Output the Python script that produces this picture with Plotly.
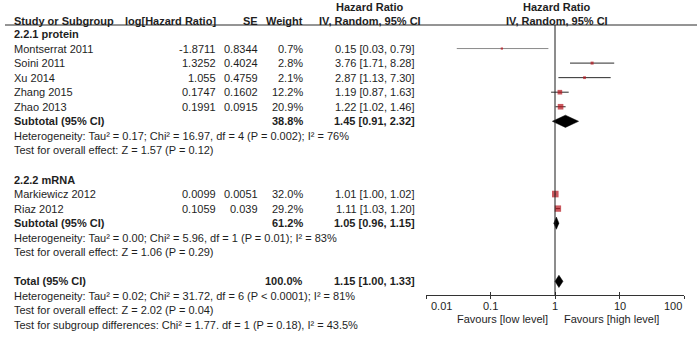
import math
import plotly.graph_objects as go

# ---------------- data ----------------
studies = ["Montserrat 2011", "Soini 2011", "Xu 2014", "Zhang 2015", "Zhao 2013",
           "Markiewicz 2012", "Riaz 2012"]
log_hr = ["-1.8711", "1.3252", "1.055", "0.1747", "0.1991", "0.0099", "0.1059"]
se = ["0.8344", "0.4024", "0.4759", "0.1602", "0.0915", "0.0051", "0.039"]
weight = [0.7, 2.8, 2.1, 12.2, 20.9, 32.0, 29.2]
hr = [0.15, 3.76, 2.87, 1.19, 1.22, 1.01, 1.11]
hr_lo = [0.03, 1.71, 1.13, 0.87, 1.02, 1.00, 1.03]
hr_hi = [0.79, 8.28, 7.30, 1.63, 1.46, 1.02, 1.20]

groups = ["2.2.1 protein", "2.2.2 mRNA"]
pooled_names = ["Subtotal (95% CI)", "Subtotal (95% CI)", "Total (95% CI)"]
pooled_weight = [38.8, 61.2, 100.0]
pooled_hr = [1.45, 1.05, 1.15]
pooled_lo = [0.91, 0.96, 1.00]
pooled_hi = [2.32, 1.15, 1.33]

het_text = [
    "Heterogeneity: Tau² = 0.17; Chi² = 16.97, df = 4 (P = 0.002); I² = 76%",
    "Heterogeneity: Tau² = 0.00; Chi² = 5.96, df = 1 (P = 0.01); I² = 83%",
    "Heterogeneity: Tau² = 0.02; Chi² = 31.72, df = 6 (P < 0.0001); I² = 81%",
]
effect_text = [
    "Test for overall effect: Z = 1.57 (P = 0.12)",
    "Test for overall effect: Z = 1.06 (P = 0.29)",
    "Test for overall effect: Z = 2.02 (P = 0.04)",
]
subgroup_text = "Test for subgroup differences: Chi² = 1.77. df = 1 (P = 0.18), I² = 43.5%"

tick_vals = [0.01, 0.1, 1, 10, 100]
tick_text = ["0.01", "0.1", "1", "10", "100"]
favours = ["Favours [low level]", "Favours [high level]"]

# row layout
study_rows = [1, 2, 3, 4, 5, 11, 12]
group_rows = [0, 10]
pooled_rows = [6, 13, 17]
het_rows = [7, 14, 18]
effect_rows = [8, 15, 19]
subgroup_row = 20

# ---------------- geometry ----------------
W, H = 697, 337
FONT = "Liberation Sans, Arial, sans-serif"
TXT = "#1e1e1e"
FS = 11
ROW0, STEP = 34.0, 14.55
TOP_PX, AX_PX = 25.0, 295.0
PL_X0, PL_X1 = 426.0, 684.0


def px(x):
    return x / W


def py(y):
    return 1 - y / H


def row_py(r):
    return py(ROW0 + STEP * r)


y_top = (TOP_PX - ROW0) / STEP
y_bot = (AX_PX - ROW0) / STEP

fig = go.Figure()

# CI lines
for i in range(len(studies)):
    col = "#8a8a8a" if i == 0 else "#2a2a2a"
    fig.add_trace(go.Scatter(x=[hr_lo[i], hr_hi[i]], y=[study_rows[i]] * 2, mode="lines",
                             line=dict(color=col, width=1), hoverinfo="skip", showlegend=False))

# study squares
sizes = [1.5 + 0.9 * w ** 0.5 for w in weight]
fig.add_trace(go.Scatter(x=hr, y=study_rows, mode="markers",
                         marker=dict(symbol="square", size=sizes, color="#b5121b",
                                     line=dict(width=0)),
                         hoverinfo="skip", showlegend=False))

# diamonds
for k in range(3):
    r = pooled_rows[k]
    h = 0.42
    fig.add_trace(go.Scatter(
        x=[pooled_lo[k], pooled_hr[k], pooled_hi[k], pooled_hr[k], pooled_lo[k]],
        y=[r, r - h, r, r + h, r], mode="lines", fill="toself",
        fillcolor="#000000", line=dict(color="#000000", width=0.5),
        hoverinfo="skip", showlegend=False))

# invisible trace for overlay axis
fig.add_trace(go.Scatter(x=[1], y=[0], xaxis="x2", mode="markers",
                         marker=dict(opacity=0), hoverinfo="skip", showlegend=False))

ann = []


def add(text, x, ypaper, anchor="left", bold=False):
    if bold:
        text = "<b>" + text + "</b>"
    ann.append(dict(text=text, x=px(x), xref="paper", y=ypaper, yref="paper", xanchor=anchor,
                    yanchor="middle", showarrow=False,
                    font=dict(family=FONT, size=FS, color=TXT)))


hdr1 = py(7)
hdr2 = py(20.5)
add("Hazard Ratio", 370, hdr1, "center", True)
add("Hazard Ratio", 557, hdr1, "center", True)
add("Study or Subgroup", 12, hdr2, "left", True)
add("log[Hazard Ratio]", 218, hdr2, "right", True)
add("SE", 260, hdr2, "right", True)
add("Weight", 305, hdr2, "right", True)
add("IV, Random, 95% CI", 370, hdr2, "center", True)
add("IV, Random, 95% CI", 557, hdr2, "center", True)

for g, r in zip(groups, group_rows):
    add(g, 12, row_py(r), "left", True)

for i in range(len(studies)):
    r = row_py(study_rows[i])
    add(studies[i], 12, r)
    add(log_hr[i], 218, r, "right")
    add(se[i], 260, r, "right")
    add(f"{weight[i]:.1f}%", 305, r, "right")
    add(f"{hr[i]:.2f} [{hr_lo[i]:.2f}, {hr_hi[i]:.2f}]", 417, r, "right")

for k in range(3):
    r = row_py(pooled_rows[k])
    add(pooled_names[k], 12, r, "left", True)
    add(f"{pooled_weight[k]:.1f}%", 305, r, "right", True)
    add(f"{pooled_hr[k]:.2f} [{pooled_lo[k]:.2f}, {pooled_hi[k]:.2f}]", 417, r, "right", True)
    add(het_text[k], 12, row_py(het_rows[k]))
    add(effect_text[k], 12, row_py(effect_rows[k]))

add(subgroup_text, 12, row_py(subgroup_row))
add(favours[0], 550, py(319), "right")
add(favours[1], 562, py(319), "left")

# axis tick labels, placed on the log axis (end labels kept inside the axis span)
for j, (tv, tt) in enumerate(zip(tick_vals, tick_text)):
    if j == 0:
        anc, sh = "left", 3
    elif j == len(tick_vals) - 1:
        anc, sh = "right", 0
    else:
        anc, sh = "center", 0
    ann.append(dict(text=tt, x=math.log10(tv), xref="x", y=py(306), yref="paper", xanchor=anc,
                    xshift=sh, yanchor="middle", showarrow=False,
                    font=dict(family=FONT, size=FS, color=TXT)))

shapes = [
    dict(type="line", xref="paper", yref="paper", x0=px(5), x1=1, y0=py(TOP_PX), y1=py(TOP_PX),
         line=dict(color="#2a2a2a", width=1)),
    dict(type="line", xref="x", yref="y", x0=1, x1=1, y0=y_top, y1=y_bot,
         line=dict(color="#1a1a1a", width=1)),
]

dom_x = [px(PL_X0), px(PL_X1)]
fig.update_layout(
    width=W, height=H, autosize=False, margin=dict(l=0, r=0, t=0, b=0, pad=0),
    paper_bgcolor="white", plot_bgcolor="white",
    annotations=ann, shapes=shapes, showlegend=False,
    xaxis=dict(type="log", range=[-2, 2], domain=dom_x, tickvals=tick_vals, ticktext=tick_text,
               ticks="outside", ticklen=3, tickcolor="#333", tickwidth=1, showticklabels=False,
               showline=True, linecolor="#333", linewidth=1, showgrid=False, zeroline=False,
               anchor="y", fixedrange=True),
    xaxis2=dict(type="log", range=[-2, 2], domain=dom_x, tickvals=tick_vals, overlaying="x",
                anchor="y", side="bottom", ticks="inside", ticklen=3, tickcolor="#333",
                showticklabels=False, showline=False, showgrid=False, zeroline=False),
    yaxis=dict(range=[y_bot, y_top], domain=[py(AX_PX), py(TOP_PX)], visible=False,
               showgrid=False, zeroline=False, fixedrange=True),
)

fig.write_html("out.html", config={"displayModeBar": False, "responsive": False},
               post_script="document.body.style.margin='0';document.body.style.overflow='hidden';")
